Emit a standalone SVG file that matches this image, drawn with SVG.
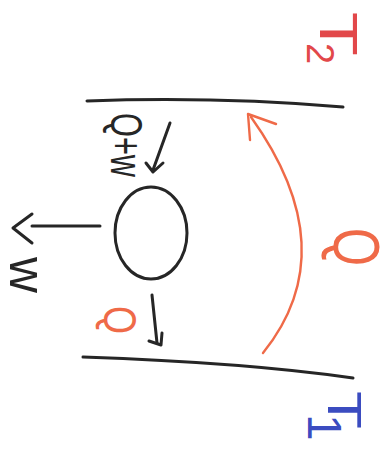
<svg xmlns="http://www.w3.org/2000/svg" width="391" height="449" viewBox="0 0 391 449">
<style>
.ink{fill:none;stroke:#262626;stroke-width:3;stroke-linecap:round;stroke-linejoin:round}
.heat{fill:none;stroke:#ef6a48;stroke-width:2.4;stroke-linecap:round;stroke-linejoin:round}
.lbl{font-family:"Liberation Sans",Arial,sans-serif}
</style>
<rect width="391" height="449" fill="#ffffff"/>
<g id="reservoir-hot">
<path class="ink" d="M87,101 C170,98 260,100 343,107"/>
<text class="lbl" transform="translate(320,12) rotate(90)" font-size="54" fill="#e2484a" textLength="44" lengthAdjust="spacingAndGlyphs">T</text>
<text class="lbl" transform="translate(307,43) rotate(90)" font-size="38" fill="#e2484a">2</text>
</g>
<g id="reservoir-cold">
<path class="ink" d="M83,357 C170,360 270,366 353,378"/>
<text class="lbl" transform="translate(328,391) rotate(90)" font-size="48" fill="#3b4cc0" textLength="38" lengthAdjust="spacingAndGlyphs">T</text>
<text class="lbl" transform="translate(308,414) rotate(90)" font-size="48" fill="#3b4cc0">1</text>
</g>
<g id="engine">
<ellipse class="ink" cx="151" cy="233" rx="36" ry="46"/>
</g>
<g id="label-qw">
<text class="lbl" transform="translate(111,113) rotate(90)" font-size="44" fill="#262626" textLength="64" lengthAdjust="spacingAndGlyphs">Q+w</text>
</g>
<g id="label-w">
<text class="lbl" transform="translate(10,257) rotate(90)" font-size="52" fill="#262626" textLength="36" lengthAdjust="spacingAndGlyphs">w</text>
</g>
<g id="label-q-small">
<text class="lbl" transform="translate(104,306) rotate(90)" font-size="46" fill="#ef6a48" textLength="28" lengthAdjust="spacingAndGlyphs">Q</text>
</g>
<g id="label-q-big">
<text class="lbl" transform="translate(334,228) rotate(90)" font-size="64" fill="#ef6a48" textLength="38" lengthAdjust="spacingAndGlyphs">Q</text>
</g>
<g id="connectors">
<path class="ink" d="M170,123 L153,170"/>
<polyline class="ink" points="146,163 153,172 163,163"/>
<path class="ink" d="M100,226 L32,226"/>
<polyline class="ink" points="32,214 13,228 32,243"/>
<path class="ink" d="M152,295 L157,343"/>
<polyline class="ink" points="149,341 161,345 162,333"/>
<path class="heat" d="M263,353 Q346,250 251,117"/>
<polyline class="heat" points="250,140 248,114 276,124"/>
</g>
</svg>
